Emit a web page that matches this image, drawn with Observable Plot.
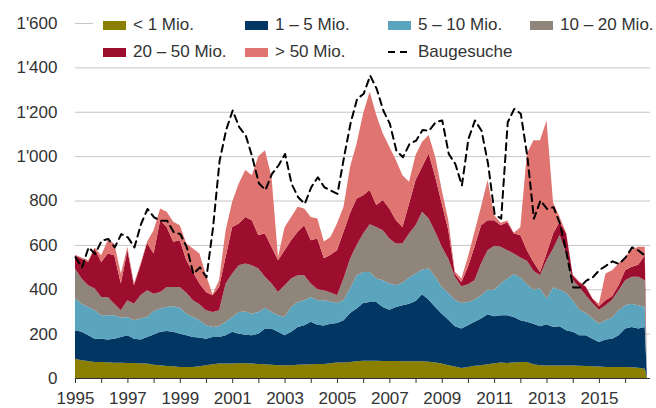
<!DOCTYPE html>
<html><head><meta charset="utf-8">
<script src="https://cdn.jsdelivr.net/npm/d3@7"></script>
<script src="https://cdn.jsdelivr.net/npm/@observablehq/plot@0.6"></script>
<style>
body{margin:0;background:#fff;}
#wrap{position:relative;width:656px;height:408px;font-family:"Liberation Sans",Arial,sans-serif;color:#333;}
#wrap svg{position:absolute;left:0;top:0;}
#legend{position:absolute;left:93px;top:10px;width:563px;height:54px;background:#fff;}
.item{position:absolute;font-size:17px;line-height:20px;white-space:nowrap;color:#333;}
.sw{position:absolute;width:23px;height:9px;}
</style></head><body><div id="wrap"></div>
<script>
// ---- data (quarterly) ----
const series = ["< 1 Mio.", "1 – 5 Mio.", "5 – 10 Mio.", "10 – 20 Mio.", "20 – 50 Mio.", "> 50 Mio."];
const colors = ["#8b7f00", "#023763", "#5aa5bd", "#8f857b", "#9d0d2d", "#e07470"];
const lineLabel = "Baugesuche";
const yTicks = [0, 200, 400, 600, 800, 1000, 1200, 1400, 1600];
const xTicks = [1995,1996,1997,1998,1999,2000,2001,2002,2003,2004,2005,2006,2007,2008,2009,2010,2011,2012,2013,2014,2015,2016];

const dates = [
 1995.00,1995.25,1995.50,1995.75,1996.00,1996.25,1996.50,1996.75,1997.00,1997.25,1997.50,1997.75,
 1998.00,1998.25,1998.50,1998.75,1999.00,1999.25,1999.50,1999.75,2000.00,2000.25,2000.50,2000.75,
 2001.00,2001.25,2001.50,2001.75,2002.00,2002.25,2002.50,2002.75,2003.00,2003.25,2003.50,2003.75,
 2004.00,2004.25,2004.50,2004.75,2005.00,2005.25,2005.50,2005.75,2006.00,2006.25,2006.50,2006.75,
 2007.00,2007.25,2007.50,2007.75,2008.00,2008.25,2008.50,2008.75,2009.00,2009.25,2009.50,2009.75,
 2010.00,2010.25,2010.50,2010.75,2011.00,2011.25,2011.50,2011.75,2012.00,2012.25,2012.50,2012.75,
 2013.00,2013.25,2013.50,2013.75,2014.00,2014.25,2014.50,2014.75,2015.00,2015.25,2015.50,2015.75,
 2016.00,2016.25,2016.50,2016.75,2016.83];

const lt1 = [
 87,80,77,72,72,71,69,69,68,68,65,65,
 60,57,54,53,50,50,50,53,57,62,65,65,
 65,66,66,65,63,62,60,58,58,58,60,61,
 62,63,63,66,70,70,72,75,78,78,78,77,
 77,77,76,76,76,75,73,70,65,58,52,45,
 50,55,57,62,66,70,68,70,72,72,62,57,
 56,56,56,56,56,55,54,53,52,50,50,50,
 50,48,46,42,3];
const m1to5 = [
 128,128,116,105,105,102,108,116,125,109,108,120,
 136,151,158,155,150,143,135,129,120,123,120,128,
 143,134,129,128,137,161,163,150,135,150,170,177,
 191,177,174,179,178,190,221,238,260,265,265,243,
 231,243,252,259,271,302,280,250,225,205,181,178,
 188,198,211,225,212,213,215,205,188,181,183,176,
 186,174,177,159,152,138,139,124,110,124,127,143,
 173,182,177,188,8];
const m5to10 = [
 143,127,127,128,106,110,106,86,82,83,95,90,
 106,105,108,115,117,97,90,78,61,45,48,60,
 67,98,105,97,98,94,75,75,82,112,113,112,
 112,110,113,100,90,90,110,150,140,135,105,121,
 118,98,101,118,124,112,140,136,120,120,120,115,
 105,100,105,111,120,143,165,194,193,170,153,170,
 116,178,165,168,142,115,100,91,83,86,94,112,
 105,105,105,90,2];
const m10to20 = [
 135,113,98,98,82,82,52,34,75,75,105,121,
 78,75,90,87,93,94,75,72,67,68,72,173,
 196,210,216,218,195,139,128,105,143,128,120,113,
 61,50,45,40,35,98,135,136,173,215,233,225,
 203,188,177,198,218,260,226,203,181,155,103,75,
 80,88,143,178,198,165,128,92,90,105,85,60,
 173,176,246,178,93,102,80,70,63,68,82,90,
 113,121,128,121,0];
const m20to50 = [
 60,90,105,181,158,196,218,121,226,83,135,213,
 181,323,271,204,211,147,128,94,83,75,105,120,
 210,188,210,203,151,195,165,143,158,173,196,226,
 195,229,145,170,203,211,206,210,173,154,99,136,
 135,105,75,134,203,203,293,248,196,128,14,19,
 78,150,173,135,115,98,126,90,101,48,40,15,
 30,67,60,90,20,22,37,20,15,22,15,23,
 45,45,54,112,0];
const gt50 = [
 2,5,8,4,30,60,53,45,15,8,8,5,
 105,53,68,90,68,75,106,135,75,5,31,120,
 113,181,211,203,356,376,316,14,104,105,113,75,
 105,90,75,81,120,113,208,248,369,443,405,300,
 278,271,233,99,113,113,83,90,60,45,10,16,
 45,68,83,181,22,11,8,4,36,436,549,594,
 600,139,22,4,2,3,2,2,12,121,118,98,
 60,78,81,38,0];
const baugesuche = [
 546,501,591,561,621,629,591,651,636,591,696,764,
 726,711,711,659,651,591,471,501,456,680,980,1120,
 1208,1133,1095,997,880,850,922,960,1012,877,817,787,
 862,907,862,847,832,997,1150,1260,1283,1365,1305,1208,
 1148,1027,997,1057,1072,1120,1117,1155,1163,1012,967,870,
 1080,1163,1117,967,740,720,1155,1215,1193,1000,720,802,
 764,772,696,561,410,410,441,456,489,508,528,516,
 546,591,576,553];

// ---- build tables ----
const seriesValues = [lt1, m1to5, m5to10, m10to20, m20to50, gt50];
const rows = [];
seriesValues.forEach((vals, si) => {
  vals.forEach((v, i) => rows.push({date: dates[i], value: v, series: series[si]}));
});
const lineRows = baugesuche.map((v, i) => ({date: dates[i], value: v}));

const fmtLocale = d3.formatLocale({decimal: ".", thousands: "'", grouping: [3], currency: ["", ""]});
const fmt = fmtLocale.format(",");

const chart = Plot.plot({
  width: 656, height: 408,
  marginTop: 23, marginBottom: 30, marginLeft: 75, marginRight: 6,
  style: {fontFamily: "'Liberation Sans', Arial, sans-serif", fontSize: "17px", color: "#333", background: "transparent", overflow: "visible"},
  x: {domain: [1995, 2016.95], label: null},
  y: {domain: [0, 1600], label: null},
  color: {domain: series, range: colors},
  marks: [
    Plot.gridY(yTicks, {stroke: "#c6c6c6", strokeOpacity: 1, strokeWidth: 1}),
    Plot.areaY(rows, {x: "date", y: "value", z: "series", fill: "series", order: series, curve: "linear"}),
    Plot.lineY(lineRows, {x: "date", y: "value", stroke: "#000", strokeWidth: 2, strokeDasharray: "7,5", curve: "linear"}),
    Plot.ruleY([0], {stroke: "#333", strokeWidth: 1}),
    Plot.axisY(yTicks, {tickSize: 0, tickPadding: 18, tickFormat: fmt, fontSize: 17, label: null}),
    Plot.axisX(xTicks, {tickSize: 5, tickPadding: 8, stroke: "#333", tickFormat: d => (d % 2 === 1 ? String(d) : ""), fontSize: 17, label: null})
  ]
});
const wrap = document.getElementById("wrap");
wrap.appendChild(chart);

// ---- legend (HTML overlay) ----
const legend = document.createElement("div");
legend.id = "legend";
wrap.appendChild(legend);
const cols = [10, 152, 295, 437];
const legendItems = [
  {label: series[0], color: colors[0], col: 0, row: 0},
  {label: series[1], color: colors[1], col: 1, row: 0},
  {label: series[2], color: colors[2], col: 2, row: 0},
  {label: series[3], color: colors[3], col: 3, row: 0},
  {label: series[4], color: colors[4], col: 0, row: 1},
  {label: series[5], color: colors[5], col: 1, row: 1},
  {label: lineLabel, color: null, col: 2, row: 1}
];
legendItems.forEach(it => {
  const x = cols[it.col];
  const cy = it.row === 0 ? 15 : 42;
  if (it.color) {
    const sw = document.createElement("div");
    sw.className = "sw";
    sw.style.left = x + "px";
    sw.style.top = (cy - 4.5) + "px";
    sw.style.background = it.color;
    legend.appendChild(sw);
  } else {
    const s = document.createElementNS("http://www.w3.org/2000/svg", "svg");
    s.setAttribute("width", 23); s.setAttribute("height", 6);
    s.style.position = "absolute"; s.style.left = x + "px"; s.style.top = (cy - 3) + "px";
    const ln = document.createElementNS("http://www.w3.org/2000/svg", "line");
    ln.setAttribute("x1", 0); ln.setAttribute("x2", 21); ln.setAttribute("y1", 3); ln.setAttribute("y2", 3);
    ln.setAttribute("stroke", "#000"); ln.setAttribute("stroke-width", 2); ln.setAttribute("stroke-dasharray", "7,5");
    s.appendChild(ln);
    legend.appendChild(s);
  }
  const t = document.createElement("div");
  t.className = "item";
  t.textContent = it.label;
  t.style.left = (x + 30) + "px";
  t.style.top = (cy - 10) + "px";
  legend.appendChild(t);
});
</script>
</body></html>
